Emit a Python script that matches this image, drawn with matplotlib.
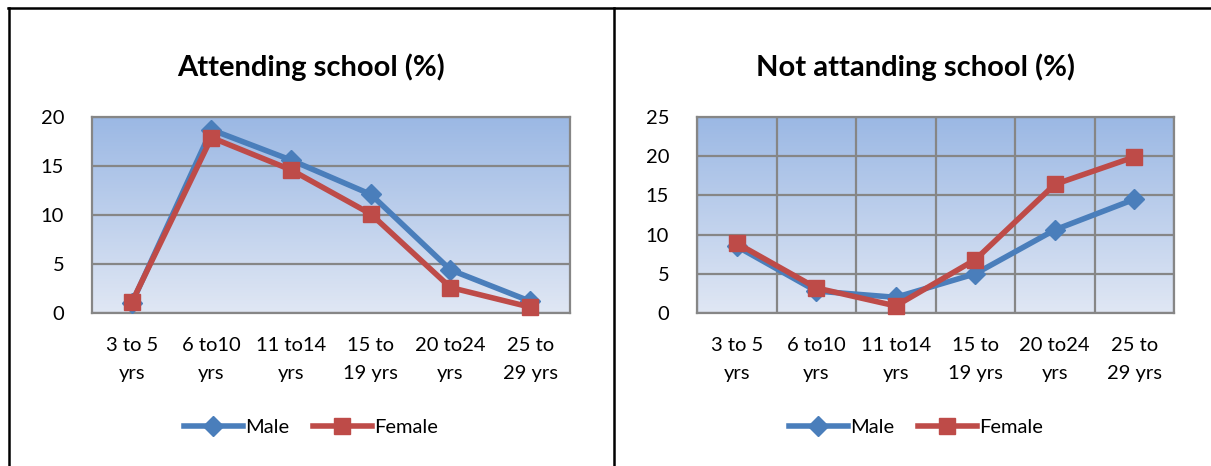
import numpy as np
import matplotlib
matplotlib.use("Agg")
import matplotlib.pyplot as plt
from matplotlib.lines import Line2D

plt.rcParams['font.family'] = ['Lato', 'DejaVu Sans']

categories = ["3 to 5\nyrs", "6 to10\nyrs", "11 to14\nyrs", "15 to\n19 yrs", "20 to24\nyrs", "25 to\n29 yrs"]

attending_male = [1.0, 18.7, 15.6, 12.1, 4.4, 1.2]
attending_female = [1.1, 17.9, 14.6, 10.1, 2.6, 0.6]

not_attending_male = [8.5, 2.8, 2.0, 5.0, 10.6, 14.5]
not_attending_female = [8.9, 3.2, 0.9, 6.8, 16.4, 19.9]

titles = ["Attending school (%)", "Not attanding school (%)"]
y_max = [20, 25]

MALE = "#4A7EBB"
FEMALE = "#BE4B48"
GRID = "#868686"

W, H = 1211, 466
fig = plt.figure(figsize=(W / 100, H / 100), dpi=100)


def px_axes(x0, x1, y0, y1):
    return fig.add_axes([x0 / W, 1 - y1 / H, (x1 - x0) / W, (y1 - y0) / H])


# gradient for plot areas
top_c = np.array([155, 184, 228]) / 255
bot_c = np.array([224, 231, 244]) / 255
t = np.linspace(0, 1, 256)[:, None]
grad = (top_c * (1 - t) + bot_c * t)[:, None, :]

panels = [
    (px_axes(92, 570, 117, 313), attending_male, attending_female, False),
    (px_axes(697, 1174, 117, 313), not_attending_male, not_attending_female, True),
]

FS = 14.5
x = np.arange(len(categories))
for i, (ax, male, female, vgrid) in enumerate(panels):
    ax.imshow(grad, extent=[-0.5, 5.5, 0, y_max[i]], aspect='auto', zorder=0,
              interpolation='bilinear')
    ax.set_xlim(-0.5, 5.5)
    ax.set_ylim(0, y_max[i])
    ax.set_yticks(np.arange(0, y_max[i] + 1, 5))
    ax.set_xticks(x)
    ax.set_xticklabels(categories, fontsize=FS, linespacing=1.8)
    ax.tick_params(axis='both', length=0, labelsize=FS)
    ax.tick_params(axis='y', pad=20)
    ax.tick_params(axis='x', pad=17)
    ax.yaxis.grid(True, color=GRID, linewidth=1.6, zorder=1)
    if vgrid:
        ax.set_xticks(np.arange(-0.5, 6, 1), minor=True)
        ax.tick_params(axis='x', which='minor', length=0)
        ax.xaxis.grid(True, which='minor', color=GRID, linewidth=1.6, zorder=1)
    ax.set_axisbelow(True)
    for s in ax.spines.values():
        s.set_color(GRID)
        s.set_linewidth(1.6)
    ax.plot(x, male, color=MALE, linewidth=4.0, marker='D', markersize=10,
            zorder=3, clip_on=False)
    ax.plot(x, female, color=FEMALE, linewidth=4.0, marker='s', markersize=11,
            zorder=4, clip_on=False)

# panel titles and legends
for cx, title in zip([311, 916], titles):
    fig.text(cx / W, 1 - 67 / H, title, ha='center', va='center',
             fontsize=21, fontweight='bold')
    handles = [
        Line2D([], [], color=MALE, linewidth=4.0, marker='D', markersize=10),
        Line2D([], [], color=FEMALE, linewidth=4.0, marker='s', markersize=11),
    ]
    fig.legend(handles, ["Male", "Female"], loc='center',
               bbox_to_anchor=(cx / W, 1 - 427 / H), ncol=2, frameon=False,
               fontsize=FS, handlelength=2.9, handletextpad=0.12,
               columnspacing=1.2)

# table-like frame around the two panels
frame_kw = dict(color='black', linewidth=1.8, transform=fig.transFigure)
fig.add_artist(Line2D([8 / W, 1], [1 - 8 / H, 1 - 8 / H], **frame_kw))
fig.add_artist(Line2D([8.5 / W, 8.5 / W], [0, 1 - 8 / H], **frame_kw))
fig.add_artist(Line2D([614 / W, 614 / W], [0, 1 - 8 / H], **frame_kw))

fig.savefig("out.png", dpi=100, facecolor='white')
